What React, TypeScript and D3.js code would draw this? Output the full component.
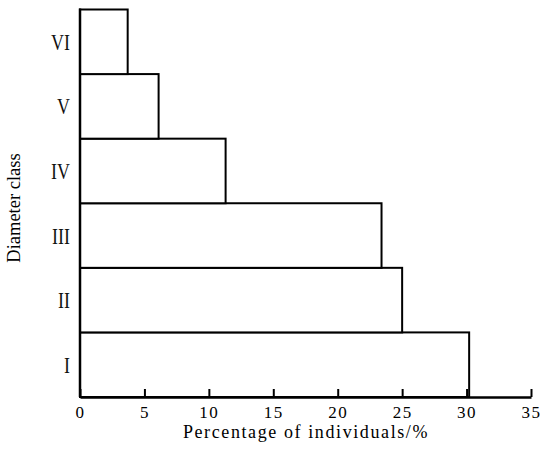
import { useRef, useEffect } from "react";
import * as d3 from "d3";

const classes = ["I", "II", "III", "IV", "V", "VI"];
const percents = [30.2, 25.0, 23.4, 11.3, 6.1, 3.7];
const xTicks = [0, 5, 10, 15, 20, 25, 30, 35];

const W = 550;
const H = 453;
const left = 80;
const right = 531;
const top = 9.5;
const bottom = 397;
const serif = "Liberation Serif, Times New Roman, serif";

const App = () => {
  const svgRef = useRef<SVGSVGElement>(null);

  useEffect(() => {
    const svg = d3.select(svgRef.current);
    svg.selectAll("*").remove();

    const x = d3.scaleLinear().domain([0, 35]).range([left, right]);
    const y = d3.scaleBand<string>().domain(classes).range([bottom, top]).padding(0);

    const data = classes.map((c, i) => ({ c, v: percents[i] }));

    // bars, no gap between classes
    svg
      .selectAll(".bar")
      .data(data)
      .join("rect")
      .attr("class", "bar")
      .attr("x", x(0))
      .attr("y", (d) => y(d.c)!)
      .attr("width", (d) => x(d.v) - x(0))
      .attr("height", y.bandwidth())
      .attr("fill", "white")
      .attr("stroke", "black")
      .attr("stroke-width", 2);

    // x axis with ticks pointing inward
    const xAxis = d3
      .axisBottom(x)
      .tickValues(xTicks)
      .tickSize(-8)
      .tickSizeOuter(0)
      .tickPadding(9);
    const gx = svg
      .append("g")
      .attr("transform", `translate(0,${bottom})`)
      .call(xAxis)
      .attr("font-family", serif)
      .attr("font-size", 17);
    gx.select(".domain").attr("stroke", "black").attr("stroke-width", 2.5);
    gx.selectAll(".tick line").attr("stroke", "black").attr("stroke-width", 2);
    gx.selectAll(".tick text")
      .attr("font-family", serif)
      .attr("font-size", 17)
      .attr("letter-spacing", 1.5)
      .attr("fill", "black");

    // y axis line
    svg
      .append("line")
      .attr("x1", left)
      .attr("x2", left)
      .attr("y1", top - 1)
      .attr("y2", bottom)
      .attr("stroke", "black")
      .attr("stroke-width", 2.5);

    // category labels
    svg
      .selectAll(".ylab")
      .data(classes)
      .join("text")
      .attr("class", "ylab")
      .attr(
        "transform",
        (c) => `translate(70,${y(c)! + y.bandwidth() / 2 + 8}) scale(0.78,1)`
      )
      .attr("text-anchor", "end")
      .attr("font-family", serif)
      .attr("font-size", 23)
      .attr("fill", "#111")
      .text((c) => c);

    // titles
    svg
      .append("text")
      .attr("x", 306)
      .attr("y", 438)
      .attr("text-anchor", "middle")
      .attr("font-family", serif)
      .attr("font-size", 18)
      .attr("letter-spacing", 1.6)
      .text("Percentage of individuals/%");

    svg
      .append("text")
      .attr("transform", `translate(20,208) rotate(-90)`)
      .attr("text-anchor", "middle")
      .attr("font-family", serif)
      .attr("font-size", 18.5)
      .text("Diameter class");
  }, []);

  return (
    <svg
      ref={svgRef}
      width={W}
      height={H}
      style={{ position: "absolute", left: 0, top: 0, background: "white" }}
    />
  );
};

export default App;
